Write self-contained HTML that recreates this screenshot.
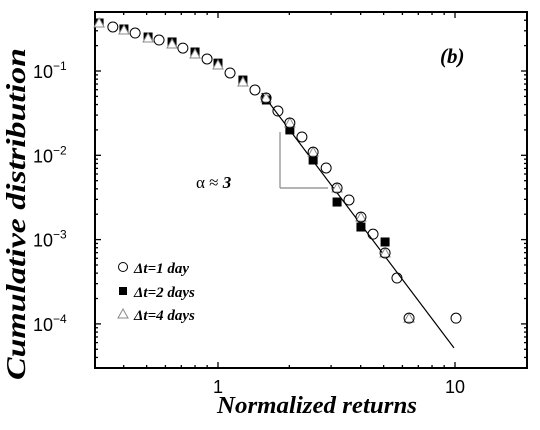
<!DOCTYPE html>
<html><head><meta charset="utf-8"><style>
html,body{margin:0;padding:0;background:#fff;}
svg{display:block;}
.tl{font-family:"Liberation Sans",sans-serif;font-size:18px;fill:#000;}
.lab{font-family:"Liberation Serif",serif;font-weight:bold;font-style:italic;fill:#000;}
</style></head><body>
<svg id="chart" width="540" height="430" viewBox="0 0 540 430" xmlns="http://www.w3.org/2000/svg">
<rect x="95" y="12" width="432" height="356" fill="none" stroke="#000" stroke-width="2"/>
<g id="ticks"></g>
<g id="marks"></g>
<line x1="280" y1="132" x2="280" y2="188" stroke="#888" stroke-width="1.2"/>
<line x1="280" y1="188" x2="328" y2="188" stroke="#888" stroke-width="1.2"/>
<text class="lab" x="196" y="188" font-size="17"><tspan font-style="normal" font-weight="normal">α ≈ </tspan>3</text>
<text class="lab" x="440" y="63" font-size="21">(b)</text>
<text class="lab" x="217" y="413" font-size="24" textLength="200" lengthAdjust="spacingAndGlyphs">Normalized returns</text>
<text class="lab" transform="translate(25,380) rotate(-90)" font-size="27" textLength="332" lengthAdjust="spacingAndGlyphs">Cumulative distribution</text>
<g>
<circle cx="123" cy="267" r="4.5" fill="none" stroke="#000" stroke-width="1"/>
<text class="lab" x="134" y="273" font-size="15">Δt=1 day</text>
<rect x="119" y="287" width="8" height="8" fill="#000"/>
<text class="lab" x="134" y="297" font-size="15">Δt=2 days</text>
<polygon points="123,309 128,318 118,318" fill="#fff" stroke="#888" stroke-width="1"/>
<text class="lab" x="134" y="320" font-size="15">Δt=4 days</text>
</g>
</svg>
<script>
const c1x=[0.360,0.447,0.564,0.711,0.899,1.124,1.432,1.595,1.79,2.01,2.26,2.52,2.86,3.18,3.57,4.01,4.51,5.07,5.69,6.40,10.1];
const c1y=[0.333,0.282,0.233,0.187,0.139,0.0947,0.0596,0.0479,0.0335,0.0242,0.0165,0.0109,0.00707,0.00409,0.00295,0.00185,0.00116,0.000694,0.00035,0.000117,0.000117];
const s2x=[0.315,0.401,0.507,0.640,0.800,1.0,1.274,1.60,2.01,2.52,3.18,4.01,5.07];
const s2y=[0.371,0.315,0.253,0.221,0.168,0.124,0.0781,0.0453,0.0200,0.00879,0.00279,0.00141,0.000937];
const t4x=[0.315,0.401,0.507,0.640,0.800,1.0,1.274,1.595,2.01,2.52,3.18,4.01,5.07,6.40];
const t4y=[0.371,0.306,0.246,0.209,0.159,0.118,0.0741,0.0479,0.0242,0.0109,0.00409,0.00185,0.000694,0.000117];
const fitX=[1.53,9.9];
const fitY=[0.0548,0.000052];
const xTickVals=[1,10];
const xTickLabels=["1","10"];
const yTickExps=[-1,-2,-3,-4];

const NS="http://www.w3.org/2000/svg";
const X0=95,X1=527,Y0=12,Y1=368;
function sx(v){return 218+237*Math.log10(v);}
function sy(v){return 71-84.3*(Math.log10(v)+1);}
function mk(tag,attrs,parent){const e=document.createElementNS(NS,tag);for(const k in attrs)e.setAttribute(k,attrs[k]);parent.appendChild(e);return e;}
const tg=document.getElementById('ticks'),mg=document.getElementById('marks');
for(let d=-1;d<=1;d++){for(let m=1;m<=9;m++){const v=m*Math.pow(10,d);const x=sx(v);if(x<=X0+1||x>=X1-1)continue;const L=m===1?6:3;
 let t=mk('line',{x1:x,x2:x,y1:Y1,y2:Y1-L,stroke:'#000','stroke-width':1.3},tg);
 
 
 t=mk('line',{x1:x,x2:x,y1:Y0,y2:Y0+L,stroke:'#000','stroke-width':1.3},tg);
 
 }}
xTickVals.forEach((v,i)=>{const t=mk('text',{x:sx(v),y:393,'text-anchor':'middle',class:'tl'},tg);t.textContent=xTickLabels[i];
 
 });
for(let d=-5;d<=0;d++){for(let m=1;m<=9;m++){const v=m*Math.pow(10,d);const y=sy(v);if(y<=Y0+1||y>=Y1-1)continue;const L=m===1?6:3;
 let t=mk('line',{x1:X0,x2:X0+L,y1:y,y2:y,stroke:'#000','stroke-width':1.3},tg);
 
 
 t=mk('line',{x1:X1,x2:X1-L,y1:y,y2:y,stroke:'#000','stroke-width':1.3},tg);
 
 }}
yTickExps.forEach(e=>{const y=sy(Math.pow(10,e));const t=mk('text',{x:33,y:y+7,class:'tl'},tg);
 t.innerHTML='10<tspan font-size="12" dy="-8">−'+(-e)+'</tspan>';
 
 });
let fl=mk('line',{x1:sx(fitX[0]),y1:sy(fitY[0]),x2:sx(fitX[1]),y2:sy(fitY[1]),stroke:'#000','stroke-width':1.2},mg);


s2x.forEach((v,i)=>{const x=sx(v),y=sy(s2y[i]);const r=mk('rect',{x:x-4.5,y:y-4.5,width:9,height:9,fill:'#000'},mg);
 
 });
t4x.forEach((v,i)=>{const x=sx(v),y=sy(t4y[i]);const p=mk('polygon',{points:`${x},${y-5} ${x+5},${y+4} ${x-5},${y+4}`,fill:'#fff',stroke:'#888','stroke-width':1},mg);
 
 });
c1x.forEach((v,i)=>{const c=mk('circle',{cx:sx(v),cy:sy(c1y[i]),r:5,fill:'none',stroke:'#000','stroke-width':1},mg);
 
 });
</script>
</body></html>
